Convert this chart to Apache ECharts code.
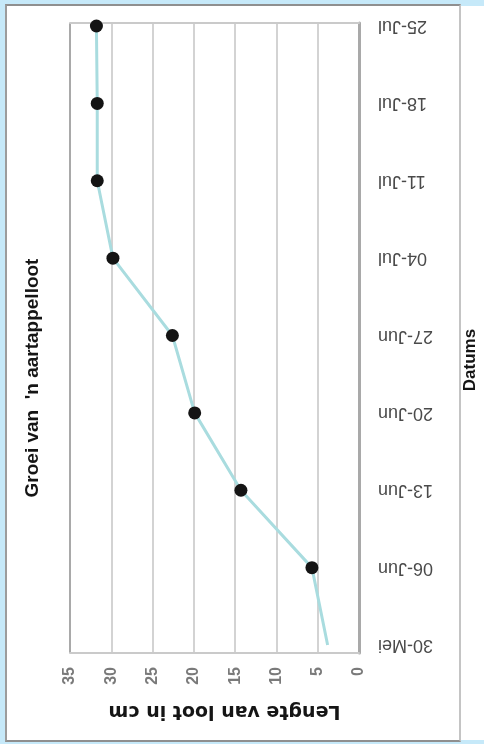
<!DOCTYPE html>
<html>
<head>
<meta charset="utf-8">
<script src="https://cdn.jsdelivr.net/npm/echarts@6/dist/echarts.min.js"></script>
<style>
  html, body { margin: 0; padding: 0; }
  body { width: 484px; height: 744px; background: #c6e9f9; position: relative; overflow: hidden; }
  #panel { position: absolute; left: 6px; top: 6px; width: 478px; height: 734px; background: #ffffff; }
  #frame { position: absolute; left: 5px; top: 4px; width: 452px; height: 734px;
           border-top: 2px solid #8f8f8f; border-left: 2px solid #9c9c9c;
           border-bottom: 2px solid #8f8f8f; border-right: 2px solid #c4c4c4; }
  #chart { position: absolute; left: 0; top: 0; width: 484px; height: 744px; }
</style>
</head>
<body>
<div id="panel"></div>
<div id="frame"></div>
<div id="chart"></div>
<script>
// ---- data ----
const dates = ['30-Mei', '06-Jun', '13-Jun', '20-Jun', '27-Jun', '04-Jul', '11-Jul', '18-Jul', '25-Jul'];
const lengths = [3.8, 5.7, 14.3, 19.9, 22.6, 29.8, 31.7, 31.7, 31.8];
const valueMin = 0;
const valueMax = 35;
const valueStep = 5;
const titleText = "Groei van  'n aartappelloot";
const valueAxisName = 'Lengte van loot in cm';
const categoryAxisName = 'Datums';

const chart = echarts.init(document.getElementById('chart'), null, { renderer: 'canvas' });

const splitColors = [];
for (let v = valueMin; v <= valueMax; v += valueStep) {
  if (v === valueMin) splitColors.push('rgba(0,0,0,0)');
  else if (v === valueMax) splitColors.push('#a9a9a9');
  else splitColors.push('#d3d3d3');
}

const option = {
  backgroundColor: 'transparent',
  animation: false,
  grid: [
    { left: 70, right: 125, top: 26, bottom: 99 },   // data grid
    { left: 70, right: 125, top: 23, bottom: 91 }    // frame grid
  ],
  xAxis: [
    { gridIndex: 0, type: 'value', min: valueMin, max: valueMax, interval: valueStep, inverse: true, show: false },
    {
      gridIndex: 1, type: 'value', min: valueMin, max: valueMax, interval: valueStep, inverse: true,
      position: 'bottom',
      axisLine: { show: true, lineStyle: { color: '#cacaca', width: 2 } },
      axisTick: { show: false },
      splitLine: { show: true, lineStyle: { color: splitColors, width: 2 } },
      axisLabel: { rotate: 90, margin: 14, fontSize: 16, fontWeight: 'bold', color: '#7a7a7a', fontFamily: 'Liberation Sans' },
      name: valueAxisName, nameLocation: 'middle', nameRotate: 180, nameGap: 48,
      nameTextStyle: { fontSize: 19, fontWeight: 'bold', color: '#151515', fontFamily: 'DejaVu Sans', padding: [0, 20, 0, 0] }
    },
    {
      gridIndex: 1, type: 'value', min: valueMin, max: valueMax, interval: valueStep, inverse: true,
      position: 'top',
      axisLine: { show: true, lineStyle: { color: '#cacaca', width: 2 } },
      axisTick: { show: false }, axisLabel: { show: false }, splitLine: { show: false }
    }
  ],
  yAxis: [
    {
      gridIndex: 0, type: 'category', data: dates, boundaryGap: false, position: 'right',
      axisLine: { show: true, lineStyle: { color: '#c0c0c0', width: 2, type: 'dotted' } },
      axisTick: { show: false },
      splitLine: { show: false },
      axisLabel: { rotate: 180, margin: 19, fontSize: 18, color: '#4a4a4a', fontFamily: 'Liberation Sans' }
    },
    {
      gridIndex: 1, type: 'value', min: 0, max: 1, position: 'left',
      axisLine: { show: true, lineStyle: { color: '#a9a9a9', width: 3 } },
      axisTick: { show: false }, axisLabel: { show: false }, splitLine: { show: false }
    }
  ],
  series: [
    {
      type: 'line', xAxisIndex: 0, yAxisIndex: 0,
      data: lengths.map((v, i) => i === 0 ? { value: v, symbolSize: 0 } : v),
      symbol: 'circle', symbolSize: 13,
      itemStyle: { color: '#141414' },
      lineStyle: { color: '#a9dcdf', width: 3 },
      z: 3
    }
  ],
  graphic: [
    {
      type: 'text', x: 33, y: 378, rotation: Math.PI / 2,
      style: { text: titleText, font: 'bold 19px "Liberation Sans"', fill: '#151515', align: 'center', verticalAlign: 'middle' }
    },
    {
      type: 'text', x: 470, y: 360, rotation: Math.PI / 2,
      style: { text: categoryAxisName, font: 'bold 17px "Liberation Sans"', fill: '#151515', align: 'center', verticalAlign: 'middle' }
    }
  ]
};
chart.setOption(option);
</script>
</body>
</html>
